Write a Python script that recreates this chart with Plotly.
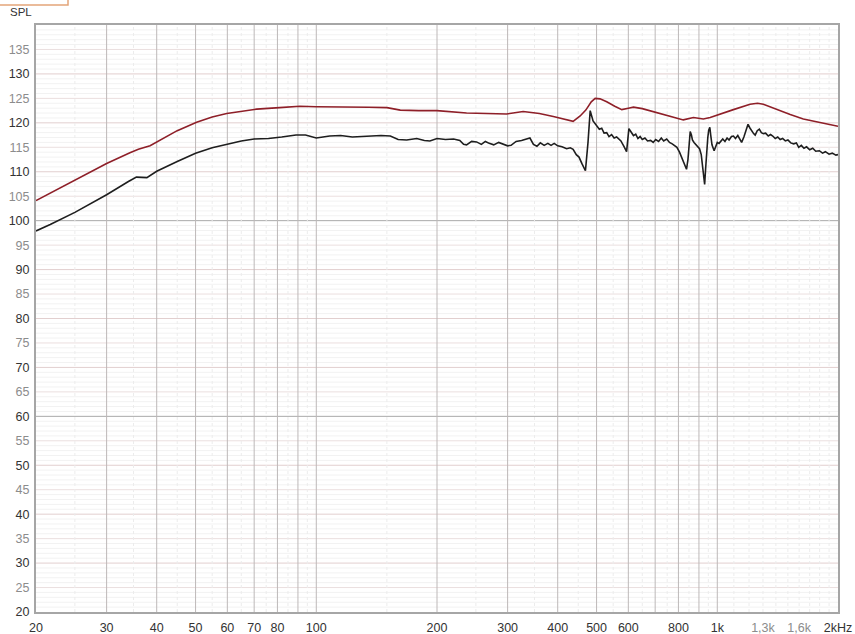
import math
import plotly.graph_objects as go

# Frequency response data (Hz, dB SPL)
red_freq = [20, 25, 30, 34.3, 36, 38.5, 41.5, 45, 50.3, 55, 59.8, 65, 71, 81, 91, 100, 108, 120,
            135, 150, 162, 180, 200, 237, 270, 298, 328, 360, 390, 415, 437, 455, 470, 485, 496,
            510, 530, 555, 578, 600, 618, 650, 706, 760, 823, 872, 923, 960, 997, 1097, 1207,
            1260, 1303, 1407, 1520, 1639, 1800, 1966, 2000]
red_spl = [104.1, 108.2, 111.7, 113.9, 114.6, 115.3, 116.8, 118.4, 120.1, 121.2, 121.9, 122.4,
           122.8, 123.1, 123.4, 123.3, 123.3, 123.2, 123.2, 123.1, 122.6, 122.5, 122.5, 122.0,
           121.9, 121.8, 122.3, 121.9, 121.3, 120.8, 120.3, 121.4, 122.6, 124.3, 125.0, 124.9,
           124.3, 123.4, 122.7, 123.0, 123.2, 122.9, 122.1, 121.4, 120.6, 121.1, 120.8, 121.1,
           121.6, 122.7, 123.8, 124.0, 123.8, 122.7, 121.7, 120.8, 120.1, 119.4, 119.3]

black_freq = [20, 21.7, 25, 30, 34, 35.6, 37.8, 40, 45, 50, 55, 60, 65, 70, 76, 82, 89, 94, 100,
              108, 115, 123, 135, 145, 153, 160, 168, 178, 186, 192, 200, 210, 220, 228, 233, 237,
              244, 251, 258, 264, 270, 277, 285, 292, 300, 306, 315, 325, 334, 341, 348, 355, 362,
              370, 378, 385, 392, 400, 410, 421, 430, 437, 445, 452, 460, 469, 476, 482, 490, 500,
              508, 515, 522, 530, 537, 545, 553, 561, 567, 575, 585, 594, 602, 610, 618, 626, 634,
              642, 650, 660, 670, 682, 692, 702, 714, 725, 735, 748, 760, 772, 782, 793, 805, 815,
              825, 838, 845, 851, 856, 862, 867, 875, 885, 895, 903, 912, 920, 926, 930, 935, 940,
              947, 952, 958, 963, 970, 982, 992, 1000, 1010, 1021, 1032, 1045, 1058, 1070, 1085,
              1097, 1110, 1125, 1138, 1150, 1165, 1178, 1193, 1205, 1220, 1232, 1243, 1258, 1273,
              1288, 1303, 1320, 1340, 1358, 1375, 1395, 1415, 1435, 1455, 1478, 1500, 1525, 1550,
              1575, 1596, 1620, 1645, 1670, 1700, 1730, 1760, 1797, 1830, 1860, 1900, 1935, 1976,
              2000]
black_spl = [97.9, 99.2, 101.7, 105.3, 108.0, 108.9, 108.8, 110.1, 112.1, 113.8, 114.9, 115.7,
             116.3, 116.7, 116.8, 117.1, 117.5, 117.5, 116.9, 117.3, 117.4, 117.1, 117.2, 117.4,
             117.3, 116.6, 116.5, 116.8, 116.4, 116.3, 116.8, 116.6, 116.7, 116.4, 115.6, 115.5,
             116.2, 116.1, 115.6, 116.2, 115.8, 115.5, 116.0, 115.6, 115.3, 115.4, 116.2, 116.4,
             116.6, 116.9, 115.6, 115.2, 115.9, 115.4, 115.8, 115.4, 115.8, 115.3, 115.1, 114.7,
             114.9, 114.6, 113.5, 113.0, 111.6, 110.2, 116.0, 122.5, 120.4, 119.3, 118.7, 118.9,
             117.9, 118.0, 117.2, 117.6, 116.9, 117.1, 116.7, 116.3, 115.2, 114.1, 118.8, 118.2,
             117.4, 117.7, 116.8, 117.2, 116.6, 116.9, 116.3, 116.4, 116.0, 116.6, 116.2, 116.9,
             116.3, 116.7, 116.0, 115.7, 115.4, 115.0, 114.0, 112.8, 111.6, 110.5, 112.5, 115.5,
             118.2, 117.5, 116.5, 116.0, 115.5, 115.0, 114.7, 113.5, 111.0, 108.5, 107.4, 110.5,
             114.0, 117.0, 118.5, 119.1, 117.5, 115.5, 114.3, 115.4, 116.0, 115.8, 116.3, 116.7,
             116.2, 116.9, 116.5, 117.2, 117.3, 116.8, 117.4, 116.6, 116.0, 117.1, 118.4, 119.7,
             119.0, 118.2, 117.8, 117.5, 118.4, 118.7, 118.0, 117.8, 117.9, 117.3, 117.6, 117.3,
             116.8, 117.1, 116.6, 116.8, 116.3, 116.5, 115.9, 115.7, 115.9, 115.0, 115.4, 114.8,
             115.1, 114.5, 114.8, 114.2, 114.3, 113.8, 114.1, 113.6, 113.8, 113.4, 113.5]

# Axis labelling
x_tick_vals = [20, 30, 40, 50, 60, 70, 80, 100, 200, 300, 400, 500, 600, 800, 1000, 1300, 1600, 2000]
x_tick_text = ["20", "30", "40", "50", "60", "70", "80", "100", "200", "300", "400", "500", "600",
               "800", "1k", "1,3k", "1,6k", "2kHz"]
x_tick_gray = {"1,3k", "1,6k"}
y_tick_vals = list(range(20, 140, 5))

X_MIN, X_MAX = 20, 2000
Y_MIN, Y_MAX = 20, 140

DARK = "#333333"
GRAY = "#8c8c8c"


def vlines(freqs):
    xs, ys = [], []
    for f in freqs:
        xs += [f, f, None]
        ys += [Y_MIN, Y_MAX, None]
    return xs, ys


def hlines(levels):
    xs, ys = [], []
    for v in levels:
        xs += [X_MIN, X_MAX, None]
        ys += [v, v, None]
    return xs, ys


fig = go.Figure()

# grid: fine 1 dB lines, 5 dB lines, 10 dB lines, 40 dB lines
grid_h = [
    ([v for v in range(21, 140) if v % 5], "#f2f2f2", 1),
    ([v for v in range(25, 140, 10)], "#ebdfdf", 1),
    ([v for v in range(30, 140, 10) if v not in (60, 100)], "#e2cfcf", 1),
    ([60, 100], "#a9a9a9", 1),
]
for levels, col, w in grid_h:
    xs, ys = hlines(levels)
    fig.add_trace(go.Scatter(x=xs, y=ys, mode="lines", line=dict(color=col, width=w),
                             hoverinfo="skip", showlegend=False))

# vertical grid: light intermediate lines, then decade subdivisions
minor_f = [25, 35, 45, 55, 65, 75, 85, 95, 150, 250, 350, 450, 550, 650, 750, 850, 950,
           1100, 1200, 1300, 1400, 1500, 1600, 1700, 1800, 1900]
major_f = [30, 40, 50, 60, 70, 80, 90, 100, 200, 300, 400, 500, 600, 700, 800, 900, 1000]
xs, ys = vlines(minor_f)
fig.add_trace(go.Scatter(x=xs, y=ys, mode="lines", line=dict(color="#ececec", width=1, dash="dot"),
                         hoverinfo="skip", showlegend=False))
xs, ys = vlines(major_f)
fig.add_trace(go.Scatter(x=xs, y=ys, mode="lines", line=dict(color="#bdb8b8", width=1),
                         hoverinfo="skip", showlegend=False))

# measured curves
fig.add_trace(go.Scatter(x=red_freq, y=red_spl, mode="lines",
                         line=dict(color="#8e1f28", width=1.6), showlegend=False))
fig.add_trace(go.Scatter(x=black_freq, y=black_spl, mode="lines",
                         line=dict(color="#1e1e1e", width=1.6), showlegend=False))

x_text = [f'<span style="color:{GRAY if t in x_tick_gray else DARK}">{t}</span>' for t in x_tick_text]
y_text = [f'<span style="color:{DARK if v % 10 == 0 else GRAY}">{v}</span>' for v in y_tick_vals]

fig.update_xaxes(type="log", range=[math.log10(X_MIN), math.log10(X_MAX)],
                 tickvals=x_tick_vals, ticktext=x_text, showgrid=False, zeroline=False,
                 showline=True, linecolor="#a6a6a6", linewidth=2, mirror=True, ticks="",
                 automargin=False, ticklabelstandoff=3,
                 tickfont=dict(family="Liberation Sans, Arial", size=12.5, color=DARK))
fig.update_yaxes(range=[Y_MIN, Y_MAX], tickvals=y_tick_vals, ticktext=y_text, showgrid=False,
                 zeroline=False, showline=True, linecolor="#a6a6a6", linewidth=2, mirror=True,
                 ticks="", ticklabelstandoff=2, automargin=False,
                 tickfont=dict(family="Liberation Sans, Arial", size=12.5, color=DARK))

L, R, T, B = 36, 17, 25, 22
W, H = 855, 634
pw, ph = W - L - R, H - T - B

fig.update_layout(
    width=W, height=H,
    margin=dict(l=L, r=R, t=T, b=B, pad=0, autoexpand=False),
    paper_bgcolor="white", plot_bgcolor="white",
    shapes=[dict(type="rect", xref="paper", yref="paper",
                 x0=-(L + 2) / pw, x1=(68 - L) / pw,
                 y0=1 + (T - 5) / ph, y1=1 + (T + 2) / ph,
                 line=dict(color="#e3a57a", width=1.5), fillcolor="white")],
    annotations=[dict(text="SPL", xref="paper", yref="paper",
                      x=(8 - L) / pw, y=1 + (T - 12) / ph, xanchor="left", yanchor="middle",
                      showarrow=False,
                      font=dict(family="Liberation Sans, Arial", size=11.5, color=DARK))],
)

fig.write_html("out.html")
